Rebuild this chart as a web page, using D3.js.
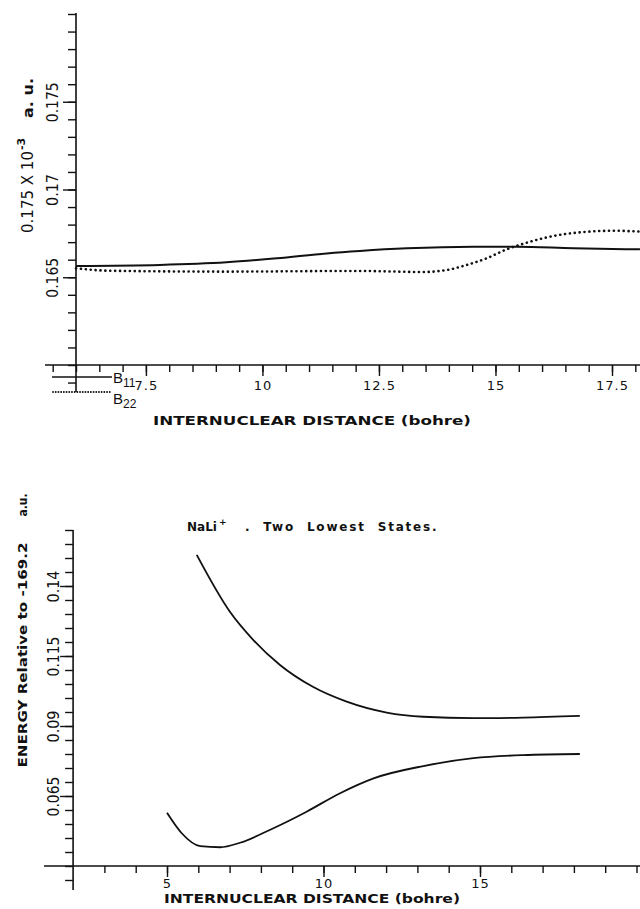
<!DOCTYPE html>
<html>
<head>
<meta charset="utf-8">
<script src="https://cdn.jsdelivr.net/npm/d3@7"></script>
<style>
  body { margin: 0; background: #fff; }
  svg { display: block; }
  .tick text { font-family: 'DejaVu Sans', sans-serif; font-size: 13px; fill: #111; }
  .plot-text { font-family: 'DejaVu Sans', sans-serif; font-weight: bold; fill: #111; }
</style>
</head>
<body>
<div id="chart"></div>
<script>
// ---- top panel: B11 / B22 vs internuclear distance (bohr)
const b11Dist = [6.0, 7.8, 9.23, 10.31, 11.38, 12.09, 13.1, 14.53, 15.46, 16.67, 18.1];
const b11Val = [0.16564, 0.1657, 0.16585, 0.16608, 0.16636, 0.1665, 0.16665, 0.16674, 0.16674, 0.16665, 0.16659];
const b22Dist = [6.0, 6.73, 9.23, 12.02, 13.45, 13.95, 14.38, 14.81, 15.24, 15.67, 16.24, 16.82, 17.53, 18.1];
const b22Val = [0.16551, 0.16537, 0.16532, 0.16536, 0.1653, 0.16541, 0.1657, 0.16608, 0.16659, 0.16697, 0.16735, 0.16756, 0.16765, 0.1676];
const topYTicks = [0.165, 0.17, 0.175];
const topXTicks = [7.5, 10, 12.5, 15, 17.5];

// ---- bottom panel: NaLi+ two lowest states
const upperDist = [5.95, 7.01, 7.76, 8.61, 9.66, 10.74, 12.02, 13.19, 14.79, 16.38, 18.19];
const upperEnergy = [0.1511, 0.1308, 0.1207, 0.1118, 0.104, 0.0987, 0.0948, 0.0933, 0.0928, 0.093, 0.0936];
const lowerDist = [5.0, 5.47, 6.06, 6.7, 7.33, 8.4, 9.46, 10.53, 11.6, 13.19, 14.79, 16.38, 18.19];
const lowerEnergy = [0.059, 0.0517, 0.0471, 0.0467, 0.0483, 0.0535, 0.0594, 0.066, 0.0713, 0.0757, 0.0785, 0.0796, 0.08];
const botYTicks = [0.065, 0.09, 0.115, 0.14];
const botXTicks = [5, 10, 15];

const W = 640;
const H = 909;

const svg = d3.select('#chart').append('svg')
  .attr('width', W)
  .attr('height', H);

svg.append('rect').attr('width', W).attr('height', H).attr('fill', '#fff');

// scales
const xTop = d3.scaleLinear().domain([6, 17.5]).range([76, 612]);
const yTop = d3.scaleLinear().domain([0.16, 0.18]).range([365, 14]);
const xBot = d3.scaleLinear().domain([5, 15]).range([167, 480]);
const yBot = d3.scaleLinear().domain([0.04, 0.16]).range([866, 530]);

const ink = '#111';

// draws a plain axis line + minor ticks + labelled major ticks
function drawAxes(g, opts) {
  const { x, y, xLine, yLine, xMinor, yMinor, xMajor, yMajor, xLab, yLab } = opts;
  const x0 = x(opts.yAt);
  const y0 = y(opts.xAt);

  // axis lines
  g.append('line')
    .attr('x1', xLine[0]).attr('x2', xLine[1])
    .attr('y1', y0).attr('y2', y0)
    .attr('stroke', ink).attr('stroke-width', 1.6);
  g.append('line')
    .attr('x1', x0).attr('x2', x0)
    .attr('y1', yLine[0]).attr('y2', yLine[1])
    .attr('stroke', ink).attr('stroke-width', 1.6);

  // x ticks (pointing down)
  const xMinorAxis = d3.axisBottom(x).tickValues(xMinor).tickSize(7).tickFormat('');
  g.append('g').attr('transform', `translate(0, ${y0})`)
    .call(xMinorAxis)
    .call(s => s.select('.domain').remove());
  const xMajorAxis = d3.axisBottom(x).tickValues(xMajor).tickSize(11).tickPadding(3)
    .tickFormat(d => String(d));
  g.append('g').attr('transform', `translate(0, ${y0})`)
    .call(xMajorAxis)
    .call(s => s.select('.domain').remove())
    .call(s => s.selectAll('text').attr('y', xLab).attr('dy', '0.35em')
      .style('letter-spacing', '1px'));

  // y ticks (pointing left), labels rotated
  const yMinorAxis = d3.axisLeft(y).tickValues(yMinor).tickSize(8).tickFormat('');
  g.append('g').attr('transform', `translate(${x0}, 0)`)
    .call(yMinorAxis)
    .call(s => s.select('.domain').remove());
  const yMajorAxis = d3.axisLeft(y).tickValues(yMajor).tickSize(13)
    .tickFormat(d => String(d));
  g.append('g').attr('transform', `translate(${x0}, 0)`)
    .call(yMajorAxis)
    .call(s => s.select('.domain').remove())
    .call(s => s.selectAll('text')
      .attr('x', 0)
      .attr('y', -yLab)
      .attr('dy', '0.35em')
      .attr('text-anchor', 'middle')
      .attr('transform', 'rotate(-90)')
      .style('font-size', '15px')
      .attr('textLength', d => String(d).length * 8)
      .attr('lengthAdjust', 'spacingAndGlyphs'));

  g.selectAll('.tick line').attr('stroke', ink).attr('stroke-width', 1.4);
}

// ---------------- top panel
const topPanel = svg.append('g');

drawAxes(topPanel, {
  x: xTop, y: yTop,
  yAt: 6, xAt: 0.16,
  xLine: [45, 640],
  yLine: [13, 392],
  xMinor: d3.range(5.5, 18.01, 0.5),
  xMajor: topXTicks,
  yMinor: d3.range(0.159, 0.18001, 0.001),
  yMajor: topYTicks,
  xLab: 20,
  yLab: 23
});

const lineTop = d3.line()
  .x(d => xTop(d[0]))
  .y(d => yTop(d[1]))
  .curve(d3.curveMonotoneX);

topPanel.append('path')
  .datum(d3.zip(b11Dist, b11Val))
  .attr('d', lineTop)
  .attr('fill', 'none')
  .attr('stroke', ink)
  .attr('stroke-width', 2);

topPanel.append('path')
  .datum(d3.zip(b22Dist, b22Val))
  .attr('d', lineTop)
  .attr('fill', 'none')
  .attr('stroke', ink)
  .attr('stroke-width', 2.6)
  .attr('stroke-linecap', 'round')
  .attr('stroke-dasharray', '0.1,4.8');

// y label (reads bottom to top)
topPanel.append('text')
  .attr('transform', 'translate(33, 233) rotate(-90)')
  .attr('textLength', 82)
  .attr('lengthAdjust', 'spacingAndGlyphs')
  .style('font-family', "'DejaVu Sans', sans-serif")
  .style('font-size', '15px')
  .attr('fill', ink)
  .text('0.175 X 10');

topPanel.append('text')
  .attr('transform', 'translate(25, 150) rotate(-90)')
  .style('font-family', "'DejaVu Sans', sans-serif")
  .style('font-size', '11px')
  .style('font-weight', 'bold')
  .attr('fill', ink)
  .text('-3');

topPanel.append('text')
  .attr('class', 'plot-text')
  .attr('transform', 'translate(33, 118) rotate(-90)')
  .attr('textLength', 40)
  .attr('lengthAdjust', 'spacingAndGlyphs')
  .style('font-size', '14px')
  .text('a. u.');

// legend
const legend = svg.append('g');
legend.append('line')
  .attr('x1', 52).attr('x2', 112).attr('y1', 377).attr('y2', 377)
  .attr('stroke', ink).attr('stroke-width', 1.6);
legend.append('line')
  .attr('x1', 53).attr('x2', 112).attr('y1', 392).attr('y2', 392)
  .attr('stroke', ink).attr('stroke-width', 1.8)
  .attr('stroke-linecap', 'round')
  .attr('stroke-dasharray', '0.1,2.6');

const legendItems = [['B', '11', 383], ['B', '22', 404]];
legend.selectAll('text.leg')
  .data(legendItems)
  .join('text')
  .attr('class', 'leg')
  .attr('x', 113)
  .attr('y', d => d[2])
  .style('font-family', "'Liberation Sans', Arial, sans-serif")
  .style('font-size', '15px')
  .attr('fill', ink)
  .each(function(d) {
    const t = d3.select(this);
    t.append('tspan').text(d[0]);
    t.append('tspan').attr('dy', 4).style('font-size', '12px').text(d[1]);
  });

svg.append('text')
  .attr('class', 'plot-text')
  .attr('x', 312).attr('y', 425)
  .attr('text-anchor', 'middle')
  .attr('textLength', 318)
  .attr('lengthAdjust', 'spacingAndGlyphs')
  .style('font-size', '12px')
  .text('INTERNUCLEAR DISTANCE (bohre)');

// ---------------- bottom panel
const botPanel = svg.append('g');

drawAxes(botPanel, {
  x: xBot, y: yBot,
  yAt: 2, xAt: 0.04,
  xLine: [44, 640],
  yLine: [530, 890],
  xMinor: d3.range(3, 20.01, 1),
  xMajor: botXTicks,
  yMinor: d3.range(0.035, 0.16001, 0.005),
  yMajor: botYTicks,
  xLab: 17,
  yLab: 19
});

const lineBot = d3.line()
  .x(d => xBot(d[0]))
  .y(d => yBot(d[1]))
  .curve(d3.curveMonotoneX);

botPanel.append('path')
  .datum(d3.zip(upperDist, upperEnergy))
  .attr('d', lineBot)
  .attr('fill', 'none')
  .attr('stroke', ink)
  .attr('stroke-width', 1.8);

botPanel.append('path')
  .datum(d3.zip(lowerDist, lowerEnergy))
  .attr('d', lineBot)
  .attr('fill', 'none')
  .attr('stroke', ink)
  .attr('stroke-width', 1.8);

// title
botPanel.append('text')
  .attr('class', 'plot-text')
  .attr('x', 187).attr('y', 531)
  .style('font-size', '12px')
  .text('NaLi');
botPanel.append('text')
  .attr('class', 'plot-text')
  .attr('x', 219).attr('y', 525)
  .style('font-size', '9px')
  .text('+');
botPanel.append('text')
  .attr('class', 'plot-text')
  .attr('x', 245).attr('y', 531)
  .style('font-size', '12px')
  .style('letter-spacing', '1.8px')
  .style('word-spacing', '6px')
  .text('. Two Lowest States.');

// y label
botPanel.append('text')
  .attr('class', 'plot-text')
  .attr('transform', 'translate(27, 655) rotate(-90)')
  .attr('text-anchor', 'middle')
  .attr('textLength', 225)
  .attr('lengthAdjust', 'spacingAndGlyphs')
  .style('font-size', '12px')
  .text('ENERGY Relative to -169.2');

botPanel.append('text')
  .attr('class', 'plot-text')
  .attr('transform', 'translate(27, 505) rotate(-90)')
  .attr('text-anchor', 'middle')
  .attr('textLength', 23)
  .attr('lengthAdjust', 'spacingAndGlyphs')
  .style('font-size', '13px')
  .text('a.u.');

svg.append('text')
  .attr('class', 'plot-text')
  .attr('x', 312).attr('y', 903)
  .attr('text-anchor', 'middle')
  .attr('textLength', 296)
  .attr('lengthAdjust', 'spacingAndGlyphs')
  .style('font-size', '12px')
  .text('INTERNUCLEAR DISTANCE (bohre)');
</script>
</body>
</html>
